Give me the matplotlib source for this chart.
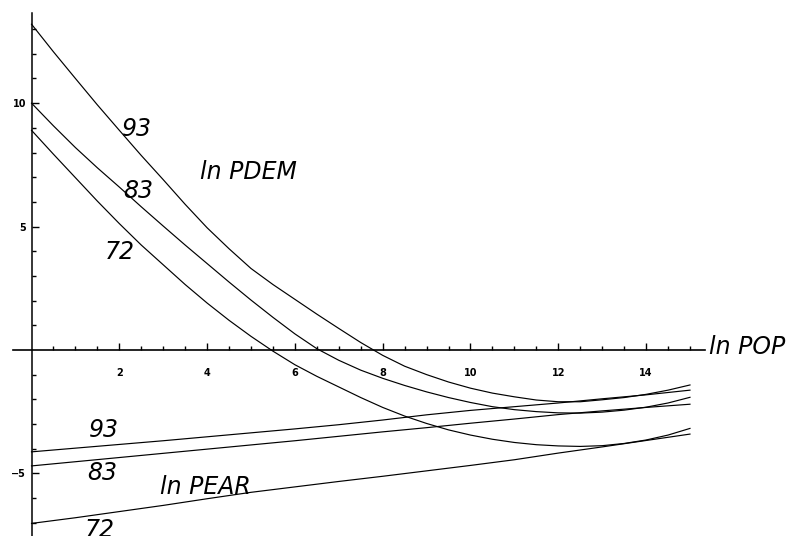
import numpy as np
import matplotlib.pyplot as plt
from matplotlib.ticker import FixedLocator

# ln POP sample points
ln_pop = [0, 1, 2, 3, 4, 5, 6, 7, 8, 9, 10, 11, 12, 13, 14, 15]
ln_pop_half = [0, 0.5, 1, 1.5, 2, 2.5, 3, 3.5, 4, 4.5, 5, 5.5, 6, 6.5, 7, 7.5,
               8, 8.5, 9, 9.5, 10, 10.5, 11, 11.5, 12, 12.5, 13, 13.5, 14, 14.5, 15]

# ln PDEM curves, by year (on the half grid)
pdem_93 = [13.2, 12.08, 11.0, 9.93, 8.9, 7.88, 6.9, 5.9, 4.95, 4.1, 3.3, 2.65, 2.05, 1.45, 0.87, 0.3,
           -0.22, -0.66, -1.0, -1.3, -1.55, -1.75, -1.9, -2.03, -2.1, -2.1, -2.02, -1.93, -1.8, -1.63, -1.42]
pdem_83 = [10.0, 9.08, 8.2, 7.38, 6.6, 5.8, 5.02, 4.25, 3.5, 2.75, 2.02, 1.32, 0.65, 0.05, -0.42, -0.82,
           -1.15, -1.44, -1.7, -1.93, -2.13, -2.3, -2.42, -2.5, -2.55, -2.56, -2.52, -2.44, -2.32, -2.15, -1.92]
pdem_72 = [8.9, 7.93, 6.98, 6.03, 5.12, 4.25, 3.45, 2.65, 1.9, 1.2, 0.55, -0.05, -0.6, -1.07, -1.5, -1.93,
           -2.33, -2.68, -2.98, -3.24, -3.45, -3.62, -3.75, -3.84, -3.89, -3.91, -3.88, -3.79, -3.65, -3.45, -3.18]

# ln PEAR lines, by year
pear_93 = [-4.13, -3.98, -3.83, -3.68, -3.52, -3.36, -3.2, -3.03, -2.84, -2.63, -2.45, -2.3, -2.15, -1.98, -1.82, -1.63]
pear_83 = [-4.7, -4.53, -4.36, -4.19, -4.02, -3.85, -3.68, -3.5, -3.32, -3.15, -2.97, -2.8, -2.62, -2.47, -2.33, -2.2]
pear_72 = [-7.03, -6.8, -6.55, -6.3, -6.03, -5.77, -5.55, -5.33, -5.12, -4.9, -4.68, -4.45, -4.18, -3.93, -3.67, -3.41]

x_ticks = [2, 4, 6, 8, 10, 12, 14]
y_ticks = [-5, 5, 10]

# handwritten notes: text, x, y
notes = [('93', 2.4, 8.95), ('83', 2.43, 6.45), ('72', 2.02, 3.95),
         ('ln PDEM', 4.95, 7.2), ('ln POP', 16.3, 0.1),
         ('93', 1.65, -3.25), ('83', 1.6, -5.0), ('ln PEAR', 3.95, -5.55), ('72', 1.55, -7.3)]


fig = plt.figure(figsize = (7.87, 5.36), dpi = 100)
ax = fig.add_axes([0, 0, 1, 1])
ax.set_xlim(-0.718, 17.21); ax.set_ylim(-7.54, 14.18)

lw = 0.85
for series in [pdem_93, pdem_83, pdem_72]:
    ax.plot(ln_pop_half, series, color = 'black', lw = lw)
for series in [pear_93, pear_83, pear_72]:
    ax.plot(ln_pop, series, color = 'black', lw = lw)

# axes through the origin, mathematica style
for side in ['top', 'right']:
    ax.spines[side].set_visible(False)
ax.spines['left'].set_position(('data', 0)); ax.spines['bottom'].set_position(('data', 0))
ax.spines['left'].set_bounds(-7.54, 13.65); ax.spines['bottom'].set_bounds(-0.42, 15.34)
ax.spines['left'].set_linewidth(1.1); ax.spines['bottom'].set_linewidth(1.2)

x_minor = [x for x in np.arange(0.5, 15.01, 0.5) if x not in x_ticks]
y_minor = [y for y in range(-7, 14) if y != 0 and y not in y_ticks]
ax.xaxis.set_major_locator(FixedLocator(x_ticks)); ax.xaxis.set_minor_locator(FixedLocator(x_minor))
ax.yaxis.set_major_locator(FixedLocator(y_ticks)); ax.yaxis.set_minor_locator(FixedLocator(y_minor))
ax.tick_params(which = 'both', direction = 'in', width = 1.0)
ax.tick_params(which = 'major', length = 5); ax.tick_params(which = 'minor', length = 3)
ax.tick_params(axis = 'x', which = 'major', pad = 13)
ax.tick_params(axis = 'y', which = 'major', pad = 4)
for label in ax.get_xticklabels() + ax.get_yticklabels():
    label.set_fontsize(7); label.set_fontweight('bold')

for text, x, y in notes:
    ax.text(x, y, text, fontsize = 17, fontstyle = 'italic', family = 'DejaVu Sans', ha = 'center', va = 'center')

fig.savefig('out.png', dpi = 100)
